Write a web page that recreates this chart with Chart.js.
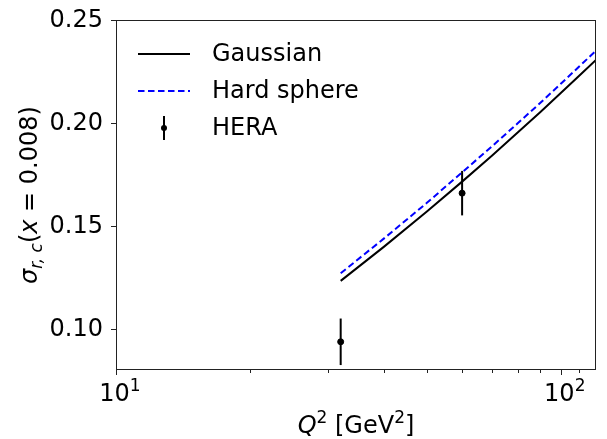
<!DOCTYPE html>
<html>
<head>
<meta charset="utf-8">
<script src="https://cdn.jsdelivr.net/npm/chart.js@4"></script>
<style>
  html, body { margin: 0; padding: 0; background: #fff; }
  #wrap { width: 607px; height: 439px; }
</style>
</head>
<body>
<div id="wrap"><canvas id="sigmaChart" width="607" height="439"></canvas></div>
<script>
// Model curves, sigma_r,c at x = 0.008
const modelQ2 = [32, 40, 50, 60, 70, 80, 90, 100, 110, 120];
const gaussianSigma = [0.1233, 0.1398, 0.1570, 0.1715, 0.1841, 0.1953, 0.2053, 0.2145, 0.2229, 0.2306];
const hardSphereSigma = [0.1270, 0.1438, 0.1612, 0.1760, 0.1886, 0.1998, 0.2098, 0.2190, 0.2274, 0.2351];

// HERA data points
const heraQ2 = [32, 60];
const heraSigma = [0.0937, 0.1659];
const heraErr = [0.0113, 0.0108];

// Axis ticks
const xMajorTicks = [10, 100];
const xMajorExp = ['1', '2'];
const xMinorTicks = [20, 30, 40, 50, 60, 70, 80, 90, 110];
const yTicks = [0.10, 0.15, 0.20, 0.25];

const FONT = '"DejaVu Sans", sans-serif';
const ctx = document.getElementById('sigmaChart').getContext('2d');

// Error bars for the HERA points
const errorBars = {
  id: 'errorBars',
  afterDatasetsDraw(chart) {
    const { ctx, scales: { x, y } } = chart;
    ctx.save();
    ctx.strokeStyle = '#000';
    ctx.lineWidth = 2;
    heraQ2.forEach((q, i) => {
      const px = x.getPixelForValue(q);
      ctx.beginPath();
      ctx.moveTo(px, y.getPixelForValue(heraSigma[i] - heraErr[i]));
      ctx.lineTo(px, y.getPixelForValue(heraSigma[i] + heraErr[i]));
      ctx.stroke();
    });
    ctx.restore();
  }
};

// Frame, tick marks, axis titles and legend (matplotlib look)
const frameAndText = {
  id: 'frameAndText',
  afterDraw(chart) {
    const { ctx, chartArea: a, scales: { x, y } } = chart;
    ctx.save();
    ctx.strokeStyle = '#222';
    ctx.lineWidth = 1;
    ctx.strokeRect(a.left + 0.5, a.top + 0.5, a.right - a.left - 1, a.bottom - a.top - 1);

    ctx.beginPath();
    yTicks.forEach(v => {
      const py = Math.round(y.getPixelForValue(v)) + 0.5;
      ctx.moveTo(a.left - 5, py);
      ctx.lineTo(a.left, py);
    });
    xMajorTicks.forEach(v => {
      const px = Math.round(x.getPixelForValue(v)) + 0.5;
      ctx.moveTo(px, a.bottom);
      ctx.lineTo(px, a.bottom + 5);
    });
    xMinorTicks.forEach(v => {
      const px = Math.round(x.getPixelForValue(v)) + 0.5;
      ctx.moveTo(px, a.bottom);
      ctx.lineTo(px, a.bottom + 3);
    });
    ctx.stroke();

    // y tick labels
    ctx.font = '24px ' + FONT;
    ctx.fillStyle = '#000';
    ctx.textAlign = 'right';
    ctx.textBaseline = 'middle';
    yTicks.forEach(v => ctx.fillText(v.toFixed(2), a.left - 13, y.getPixelForValue(v) + 1));

    // x tick labels 10^n
    xMajorTicks.forEach((v, i) => {
      drawParts(ctx, [
        { t: '10', f: '24px ' + FONT, dy: 0 },
        { t: xMajorExp[i], f: '17px ' + FONT, dy: -10 }
      ], x.getPixelForValue(v) + 4, a.bottom + 31);
    });

    // x title: Q^2 [GeV^2]
    const xParts = [
      { t: 'Q', f: 'italic 24px ' + FONT, dy: 0 },
      { t: '2', f: '17px ' + FONT, dy: -10 },
      { t: ' [GeV', f: '24px ' + FONT, dy: 0 },
      { t: '2', f: '17px ' + FONT, dy: -10 },
      { t: ']', f: '24px ' + FONT, dy: 0 }
    ];
    drawParts(ctx, xParts, (a.left + a.right) / 2, 433);

    // y title: sigma_{r,c}(x = 0.008)
    const yParts = [
      { t: '\u03c3', f: 'italic 24px ' + FONT, dy: 0 },
      { t: 'r, c', f: 'italic 17px ' + FONT, dy: 5 },
      { t: '(', f: '24px ' + FONT, dy: 0 },
      { t: 'x', f: 'italic 24px ' + FONT, dy: 0 },
      { t: ' = 0.008)', f: '24px ' + FONT, dy: 0 }
    ];
    ctx.save();
    ctx.translate(37, (a.top + a.bottom) / 2);
    ctx.rotate(-Math.PI / 2);
    drawParts(ctx, yParts, 0, 0);
    ctx.restore();

    // legend
    const ds = chart.data.datasets;
    const rows = [54, 91, 128];
    ds.forEach((d, i) => {
      const ly = rows[i];
      ctx.save();
      if (d.type === 'scatter') {
        ctx.strokeStyle = '#000';
        ctx.lineWidth = 2;
        ctx.beginPath();
        ctx.moveTo(164, ly - 12);
        ctx.lineTo(164, ly + 12);
        ctx.stroke();
        ctx.beginPath();
        ctx.arc(164, ly, 3, 0, Math.PI * 2);
        ctx.fillStyle = '#000';
        ctx.fill();
      } else {
        ctx.strokeStyle = d.borderColor;
        ctx.lineWidth = d.borderWidth;
        ctx.setLineDash(d.borderDash || []);
        ctx.beginPath();
        ctx.moveTo(138, ly);
        ctx.lineTo(190, ly);
        ctx.stroke();
      }
      ctx.restore();
      ctx.font = '24px ' + FONT;
      ctx.fillStyle = '#000';
      ctx.textBaseline = 'middle';
      ctx.textAlign = 'left';
      ctx.fillText(d.label, 212, ly + 1);
    });
    ctx.restore();
  }
};

// draw a row of text pieces with mixed fonts, centred on cx
function drawParts(ctx, parts, cx, baseY) {
  let total = 0;
  parts.forEach(p => { ctx.font = p.f; p.w = ctx.measureText(p.t).width; total += p.w; });
  let px = cx - total / 2;
  ctx.fillStyle = '#000';
  ctx.textAlign = 'left';
  ctx.textBaseline = 'alphabetic';
  parts.forEach(p => {
    ctx.font = p.f;
    ctx.fillText(p.t, px, baseY + p.dy);
    px += p.w;
  });
}

const chart = new Chart(ctx, {
  type: 'line',
  data: {
    datasets: [
      {
        label: 'Gaussian',
        data: modelQ2.map((q, i) => ({ x: q, y: gaussianSigma[i] })),
        borderColor: '#000000',
        borderWidth: 2,
        pointRadius: 0,
        fill: false,
        tension: 0
      },
      {
        label: 'Hard sphere',
        data: modelQ2.map((q, i) => ({ x: q, y: hardSphereSigma[i] })),
        borderColor: '#0000ff',
        borderWidth: 2,
        borderDash: [6.5, 3.5],
        pointRadius: 0,
        fill: false,
        tension: 0
      },
      {
        type: 'scatter',
        label: 'HERA',
        data: heraQ2.map((q, i) => ({ x: q, y: heraSigma[i] })),
        backgroundColor: '#000',
        borderColor: '#000',
        pointRadius: 3,
        showLine: false
      }
    ]
  },
  options: {
    responsive: false,
    animation: false,
    layout: { padding: { top: 20, right: 11, left: 0, bottom: 0 } },
    plugins: {
      legend: { display: false },
      tooltip: { enabled: false }
    },
    scales: {
      x: {
        type: 'logarithmic',
        min: 10,
        max: 120,
        grid: { display: false },
        border: { display: false },
        afterBuildTicks: scale => { scale.ticks = xMajorTicks.map(v => ({ value: v })); },
        afterFit: scale => { scale.height = 69; },
        ticks: { display: false }
      },
      y: {
        min: 0.08,
        max: 0.25,
        grid: { display: false },
        border: { display: false },
        afterBuildTicks: scale => { scale.ticks = yTicks.map(v => ({ value: v })); },
        afterFit: scale => { scale.width = 116; },
        ticks: { display: false }
      }
    }
  },
  plugins: [errorBars, frameAndText]
});
</script>
</body>
</html>
